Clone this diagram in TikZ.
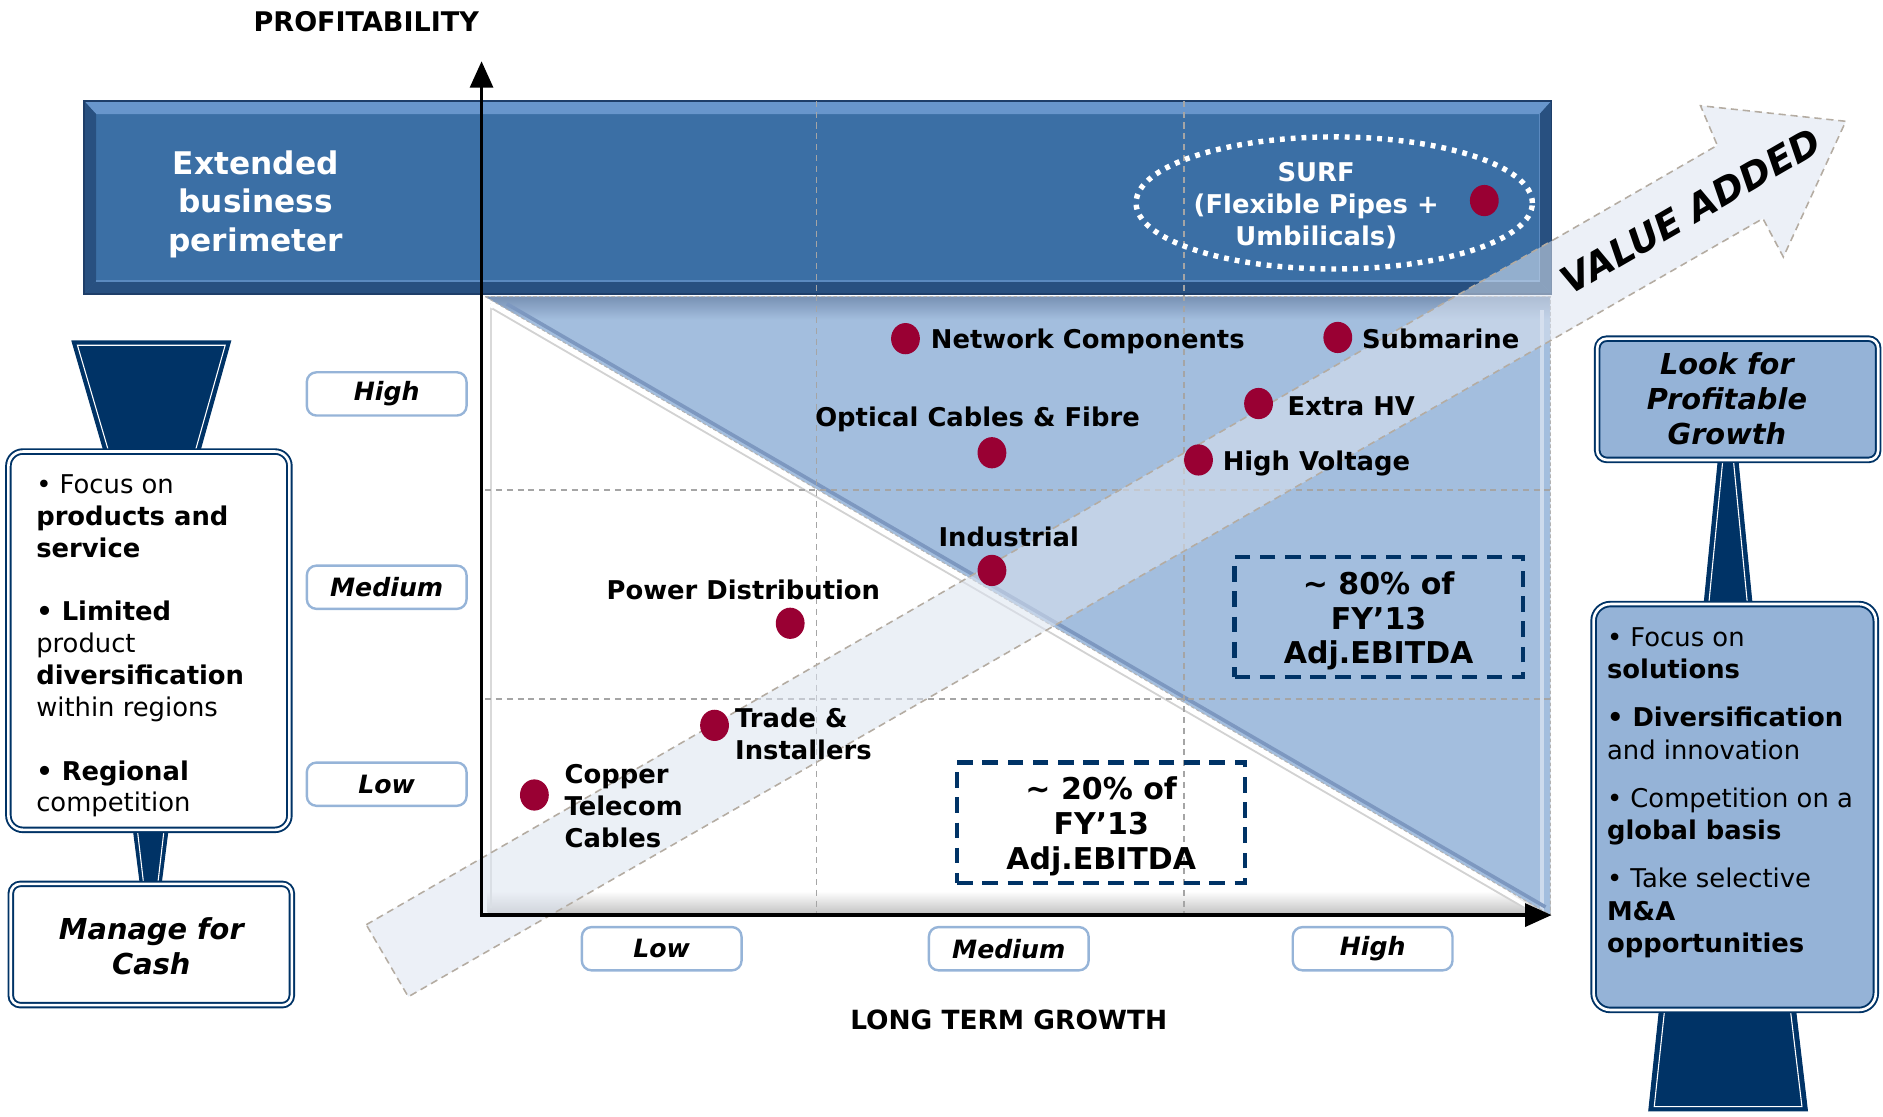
\documentclass[tikz,border=0pt]{standalone}
\usepackage{fontspec}
\setmainfont{DejaVu Sans}
\usetikzlibrary{arrows.meta,shapes.geometric}
\definecolor{navy}{RGB}{0,51,102}
\definecolor{banner}{RGB}{59,111,165}
\definecolor{bannerlt}{RGB}{104,150,204}
\definecolor{bannerdk}{RGB}{40,80,128}
\definecolor{bannerout}{RGB}{30,62,105}
\definecolor{tri}{RGB}{163,190,222}
\definecolor{trishade}{RGB}{120,145,180}
\definecolor{triedge}{RGB}{125,152,192}
\definecolor{lbox}{RGB}{149,179,215}
\definecolor{maroon}{RGB}{153,0,51}
\definecolor{lblborder}{RGB}{150,180,216}
\definecolor{arrowfill}{RGB}{220,228,240}
\definecolor{arrowedge}{RGB}{180,172,162}
\definecolor{gridc}{RGB}{165,165,165}
\tikzset{
  mdot/.style={ellipse, fill=maroon, minimum width=24pt, minimum height=26pt, inner sep=0pt},
  clabel/.style={font=\fontsize{21.5}{26.5}\selectfont\bfseries, inner sep=0pt, align=left},
  lvl/.style={draw=lblborder, line width=2pt, rounded corners=8pt, fill=white, minimum width=133pt, minimum height=36pt, inner sep=0pt, font=\fontsize{21}{25}\selectfont\bfseries\itshape},
  ebox/.style={draw=navy, dash pattern=on 13pt off 8pt, line width=3.5pt, minimum width=240pt, minimum height=100pt, inner sep=0pt},
  eboxtxt/.style={align=center, inner sep=0pt, font=\fontsize{25}{29}\selectfont\bfseries},
  dbl/.style={draw=navy, double=white, double distance=2.2pt, line width=1.6pt, rounded corners=12pt, inner sep=0pt},
  funnel/.style={fill=navy, draw=navy, line width=1pt},
  funnelin/.style={draw=white, line width=0.9pt},
  gridline/.style={draw=gridc, line width=1pt, dash pattern=on 5pt off 4pt},
  axisline/.style={line width=3pt, -{Triangle[length=22pt,width=19pt]}},
  sidetxt/.style={align=left, inner sep=0pt, anchor=west},
  sidetitle/.style={font=\fontsize{24}{29}\selectfont\bfseries\itshape, align=center, inner sep=0pt},
}
\begin{document}
\begin{tikzpicture}[x=1pt,y=-1pt]
\useasboundingbox (0,0) rectangle (1568,930);

% ---------- chart panel ----------
\fill[white] (404,247) rectangle (1291,762);
\shade[top color=white, bottom color=gray!45] (406,742) rectangle (1291,760);
\draw[gray!30, line width=2pt] (409,252) -- (409,756);
\fill[tri] (404,247) -- (1291,247) -- (1291,762) -- cycle;
\begin{scope}
  \clip (404,247) -- (1291,247) -- (1291,762) -- cycle;
  \shade[top color=trishade, bottom color=tri] (404,247) rectangle (1291,266);
  \draw[tri!55!white, line width=3pt] (1284,258) -- (1284,760);
\end{scope}
\draw[triedge, line width=3pt] (422,253) -- (1287,755.3);
\draw[white, line width=4pt] (408,253.5) -- (1282,761);
\draw[gray!35, line width=1.5pt] (410,257) -- (1276,759.8);
\draw[gray!60, dash pattern=on 3pt off 2pt, line width=0.8pt] (404,247) -- (1291,247) -- (1291,762) -- cycle;

% ---------- banner ----------
\fill[banner] (70,84) rectangle (1292,245);
\fill[bannerlt] (70,84) -- (1292,84) -- (1282,95) -- (80,95) -- cycle;
\fill[bannerdk] (70,245) -- (1292,245) -- (1282,234) -- (80,234) -- cycle;
\fill[bannerdk] (70,84) -- (80,95) -- (80,234) -- (70,245) -- cycle;
\fill[bannerdk] (1292,84) -- (1282,95) -- (1282,234) -- (1292,245) -- cycle;
\draw[bannerlt!70!banner, line width=1pt] (80,234) -- (1282,234) -- (1282,95);
\draw[bannerout, line width=1.5pt] (70,84) rectangle (1292,245);
\node[font=\fontsize{26}{32}\selectfont\bfseries, text=white, align=center, inner sep=0pt] (ext) at (213,170) {Extended\\business\\perimeter};

% ---------- grid ----------
\draw[gridline] (680,84) -- (680,762);
\draw[gridline] (986,84) -- (986,762);
\draw[gridline] (404,408) -- (1291,408);
\draw[gridline] (404,582) -- (1291,582);

% ---------- SURF ----------
\node[draw=white, dash pattern=on 4pt off 5pt, line width=4.5pt, ellipse, minimum width=330pt, minimum height=110pt, inner sep=0pt] (surfell) at (1111,169) {};
\node[font=\fontsize{21.5}{26.5}\selectfont\bfseries, text=white, align=center, inner sep=0pt] (surf) at (1096,171) {SURF\\(Flexible Pipes +\\Umbilicals)};

% ---------- value added arrow ----------
\fill[arrowfill, fill opacity=0.55] (305,770) -- (1430,121) -- (1416,88) -- (1537,101) -- (1485,214) -- (1468,182) -- (340,830) -- cycle;
\draw[arrowedge, dash pattern=on 6pt off 4pt, line width=1.3pt] (305,770) -- (1430,121) -- (1416,88) -- (1537,101) -- (1485,214) -- (1468,182) -- (340,830) -- cycle;
\node[rotate=30, font=\fontsize{31}{31}\selectfont\bfseries\itshape, inner sep=0pt] (va) at (1408,176) {VALUE ADDED};

% ---------- axes ----------
\coordinate (O) at (401,762);
\coordinate (ytip) at (401,51);
\coordinate (xtip) at (1292,762);
\coordinate (Ox) at (399.5,762);
\draw[axisline] (O) -- (ytip);
\draw[axisline] (Ox) -- (xtip);
\node[font=\fontsize{22.5}{25}\selectfont\bfseries, inner sep=0pt] (ptitle) at (305,18) {PROFITABILITY};
\node[font=\fontsize{22}{25}\selectfont\bfseries, inner sep=0pt] (gtitle) at (840,849) {LONG TERM GROWTH};

% axis levels
\node[lvl] (yh) at (322,328) {High};
\node[lvl] (ym) at (322,489) {Medium};
\node[lvl] (yl) at (322,653) {Low};
\node[lvl] (xl) at (551,790) {Low};
\node[lvl] (xm) at (840,790) {Medium};
\node[lvl] (xh) at (1143,790) {High};

% ---------- dashed boxes ----------
\node[ebox] (b80) at (1148,513.5) {};
\node[eboxtxt] (t80) at (1148,517) {\textasciitilde{} 80\% of\\FY’13\\Adj.EBITDA};
\node[ebox] (b20) at (917,685) {};
\node[eboxtxt] (t20) at (917,688) {\textasciitilde{} 20\% of\\FY’13\\Adj.EBITDA};

% ---------- dots and labels ----------
\node[mdot] (dsurf) at (1236,167) {};
\node[mdot] (dnet) at (754,282) {};
\node[clabel, anchor=west] (lnet) at (775,284) {Network Components};
\node[mdot] (dsub) at (1114,281) {};
\node[clabel, anchor=west] (lsub) at (1134,282) {Submarine};
\node[clabel] (lopt) at (814,349) {Optical Cables \& Fibre};
\node[mdot] (dopt) at (826,377) {};
\node[mdot] (dehv) at (1048,336) {};
\node[clabel, anchor=west] (lehv) at (1072,338) {Extra HV};
\node[mdot] (dhv) at (998,383) {};
\node[clabel, anchor=west] (lhv) at (1018,386) {High Voltage};
\node[clabel] (lind) at (840,447) {Industrial};
\node[mdot] (dind) at (826,475) {};
\node[clabel] (lpow) at (619,491) {Power Distribution};
\node[mdot] (dpow) at (658,519) {};
\node[mdot] (dtra) at (595,604) {};
\node[clabel, anchor=west] (ltra) at (612,611) {Trade \&\\Installers};
\node[mdot] (dcop) at (445,662) {};
\node[clabel, anchor=west] (lcop) at (470,671) {Copper\\Telecom\\Cables};

% ---------- left column ----------
\fill[funnel] (60,284) -- (192,284) -- (166,377) -- (87,377) -- cycle;
\draw[funnelin] (90.5,376) -- (64.5,287.5) -- (187.5,287.5) -- (162.5,376);
\fill[funnel] (111,690) -- (140,690) -- (134,737) -- (117,737) -- cycle;
\draw[funnelin] (114.5,692) -- (119.5,735);
\draw[funnelin] (136.5,692) -- (131.5,735);
\node[dbl, fill=white, minimum width=234pt, minimum height=315pt] (lbox1) at (124,533.5) {};
\node[sidetxt, font=\fontsize{21.5}{26.5}\selectfont] (ltxt) at (30,538) {\textbullet{} Focus on\\\textbf{products and}\\\textbf{service}\\[26.5pt]\textbf{\textbullet{} Limited}\\product\\\textbf{diversification}\\within regions\\[26.5pt]\textbf{\textbullet{} Regional}\\competition};
\node[dbl, fill=white, rounded corners=8pt, minimum width=234pt, minimum height=101pt] (lbox2) at (126,786.5) {};
\node[sidetitle] (ltitle) at (126,788) {Manage for\\Cash};

% ---------- right column ----------
\fill[funnel] (1431,382) -- (1447,382) -- (1459,504) -- (1419,504) -- cycle;
\draw[funnelin] (1434.5,384) -- (1423,502);
\draw[funnelin] (1443.5,384) -- (1455,502);
\fill[funnel] (1382,840) -- (1495,840) -- (1505,925) -- (1373,925) -- cycle;
\draw[funnelin] (1386,842) -- (1377.5,921.5) -- (1500.5,921.5) -- (1491,842);
\node[dbl, fill=lbox, rounded corners=8pt, minimum width=234pt, minimum height=101pt] (rbox1) at (1447,332.5) {};
\node[sidetitle] (rtitle) at (1438,332) {Look for\\Profitable\\Growth};
\node[dbl, fill=lbox, rounded corners=14pt, minimum width=235pt, minimum height=338pt] (rbox2) at (1444.5,672) {};
\node[sidetxt, font=\fontsize{21.5}{27}\selectfont] (rtxt) at (1338,660) {\textbullet{} Focus on\\\textbf{solutions}\\[13pt]\textbf{\textbullet{} Diversification}\\and innovation\\[13pt]\textbullet{} Competition on a\\\textbf{global basis}\\[13pt]\textbullet{} Take selective\\\textbf{M\&A}\\\textbf{opportunities}};
\end{tikzpicture}
\end{document}
